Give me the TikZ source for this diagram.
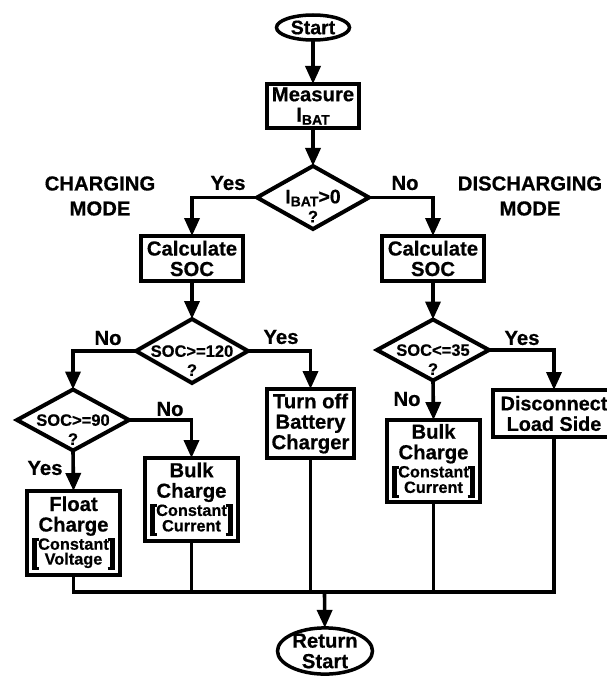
\documentclass[tikz,border=0pt]{standalone}
\usepackage{fontspec}
\setmainfont{Liberation Sans}[BoldFeatures={FakeBold=0.6}]
\usetikzlibrary{shapes.geometric,arrows.meta}

\newcommand\mainf{\bfseries\fontsize{20.3}{20.5}\selectfont}
\newcommand\dfont{\bfseries\fontsize{16.5}{19}\selectfont}
\newcommand\smallf{\bfseries\fontsize{16.3}{12}\selectfont}
\newcommand\subt[1]{\raisebox{-3pt}{\fontsize{14}{14}\selectfont #1}}
% bold square brackets made of rules
\newcommand\lbk[2]{\rlap{\vrule width 7pt height #1 depth -\dimexpr#1-3pt\relax}\rlap{\vrule width 7pt height -\dimexpr#2-3pt\relax depth #2}\vrule width 4.5pt height #1 depth #2}
\newcommand\rbk[2]{\vrule width 4.5pt height #1 depth #2\llap{\vrule width 7pt height #1 depth -\dimexpr#1-3pt\relax}\llap{\vrule width 7pt height -\dimexpr#2-3pt\relax depth #2}}
\newcommand\brk[1]{{\setbox0=\hbox{\smallf\begin{tabular}{@{}c@{}}#1\end{tabular}}%
  \dimen0=\ht0 \advance\dimen0 by 0.5pt \dimen2=\dp0 \advance\dimen2 by 1.5pt
  \lbk{\dimen0}{\dimen2}\kern1.2pt\box0\kern1.2pt\rbk{\dimen0}{\dimen2}}}
% diamond text: first line on the centre, second line below, no size
\newcommand\dtext[2]{\smash{\raisebox{-5.8pt}{\makebox[0pt]{\begin{tabular}[t]{@{}c@{}}#1\\#2\end{tabular}}}}}

\begin{document}
\begin{tikzpicture}[x=1pt,y=-1pt,
  every node/.style={font=\mainf,inner sep=0pt,outer sep=0pt},
  term/.style={draw,ellipse,line width=3.5pt,align=center,inner sep=-1pt},
  box/.style={draw,rectangle,line width=4pt,align=center},
  dec/.style={draw,diamond,line width=4pt,font=\dfont},
  lbl/.style={font=\mainf},
  modelbl/.style={font=\bfseries\fontsize{20.3}{25}\selectfont,align=center},
  arr/.style={line width=3.6pt,-{Triangle[width=15pt,length=18pt]}},
  ln/.style={line width=3.6pt}]
\useasboundingbox (0,0) rectangle (606,677);

% nodes
\node[term,minimum width=73pt,minimum height=25pt,font=\bfseries\fontsize{19.5}{20}\selectfont] (start) at (313,27.5) {Start};
\node[box,minimum width=92pt,minimum height=44pt] (meas) at (313,106) {Measure\\I\subt{BAT}};
\node[dec,minimum width=112pt,minimum height=63pt] (d1) at (313,197.5) {\dtext{\fontsize{19.5}{18}\selectfont I\subt{BAT}>0}{?}};
\node[box,minimum width=102pt,minimum height=45pt] (calcL) at (192,258.5) {Calculate\\SOC};
\node[box,minimum width=102pt,minimum height=45pt] (calcR) at (433,258.5) {Calculate\\SOC};
\node[dec,minimum width=112pt,minimum height=64pt] (d2) at (192,351) {\dtext{SOC>=120}{?}};
\node[dec,minimum width=112pt,minimum height=61pt] (d3) at (433,350) {\dtext{SOC<=35}{?}};
\node[dec,minimum width=112pt,minimum height=61pt] (d4) at (73,420) {\dtext{SOC>=90}{?}};
\node[box,minimum width=87pt,minimum height=69pt] (toff) at (310.5,423.5) {Turn off\\Battery\\Charger};
\node[box,minimum width=93pt,minimum height=83pt] (bulkL) at (191.5,499.5) {Bulk\\Charge\\[1pt]\brk{Constant\\[0.5pt]Current}};
\node[box,minimum width=93pt,minimum height=84pt] (float) at (73.5,533) {Float\\Charge\\[1pt]\brk{Constant\\[-0.5pt]Voltage}};
\node[box,minimum width=93pt,minimum height=82pt] (bulkR) at (433.5,461) {Bulk\\Charge\\[1pt]\brk{Constant\\[0.5pt]Current}};
\node[box,minimum width=122pt,minimum height=47pt,font=\bfseries\fontsize{19.8}{20.5}\selectfont] (disc) at (554,413.5) {Disconnect\\Load Side};
\node[term,minimum width=95pt,minimum height=46pt] (ret) at (325,651) {Return\\Start};
\coordinate (bus) at (324.5,592);

% labels
\node[modelbl] (chg) at (100,196) {CHARGING\\MODE};
\node[modelbl] (dchg) at (530,196) {DISCHARGING\\MODE};
\node[lbl] (y1) at (228,183) {Yes};
\node[lbl] (n1) at (405,183) {No};
\node[lbl] (n2) at (108,338) {No};
\node[lbl] (y2) at (281,337) {Yes};
\node[lbl] (y3) at (522,338) {Yes};
\node[lbl] (n3) at (407,399) {No};
\node[lbl] (n4) at (170,409) {No};
\node[lbl] (y4) at (45,468) {Yes};

% connectors
\draw[arr] (start) -- (meas);
\draw[arr] (meas) -- (d1);
\draw[arr] (d1.west) -| (calcL.north);
\draw[arr] (d1.east) -| (calcR.north);
\draw[arr] (calcL) -- (d2);
\draw[arr] (calcR) -- (d3);
\draw[arr] (d2.west) -| (d4.north);
\draw[arr] (d2.east) -| (toff.north);
\draw[arr] (d4.east) -| (bulkL.north);
\draw[arr] (d4.south) -- (float.north);
\draw[arr] (d3.south) -- (bulkR.north);
\draw[arr] (d3.east) -| (disc.north);
\draw[ln] (float.south) |- (bus) -| (disc.south);
\draw[ln] (bulkL.south) -- (bulkL.south |- bus);
\draw[ln] (toff.south) -- (toff.south |- bus);
\draw[ln] (bulkR.south) -- (bulkR.south |- bus);
\draw[arr] (bus) -- (ret);
\end{tikzpicture}
\end{document}
